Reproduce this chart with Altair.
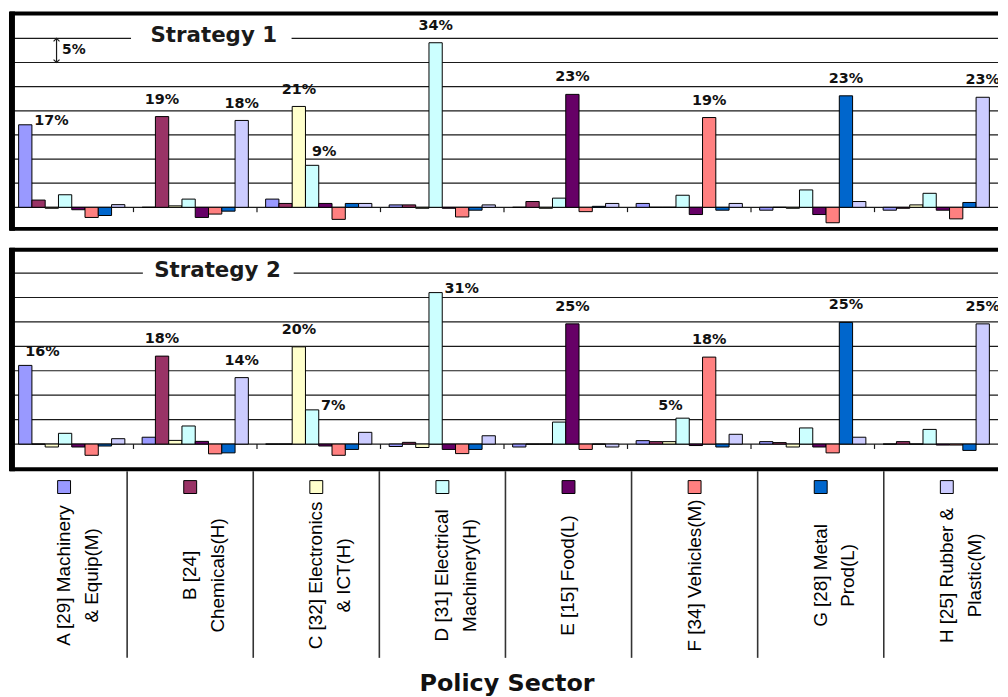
import altair as alt
import pandas as pd

# ---------------- data ----------------
SECTORS = ["A", "B", "C", "D", "E", "F", "G", "H"]
SERIES = ["A", "B", "C", "D", "E", "F", "G", "H"]
SERIES_COLORS = ["#9999FF", "#993366", "#FFFFCC", "#CCFFFF",
                 "#660066", "#FF8080", "#0066CC", "#CCCCFF"]
SECTOR_NAMES = [
    "A [29] Machinery\n& Equip(M)",
    "B [24]\nChemicals(H)",
    "C [32] Electronics\n& ICT(H)",
    "D [31] Electrical\nMachinery(H)",
    "E [15] Food(L)",
    "F [34] Vehicles(M)",
    "G [28] Metal\nProd(L)",
    "H [25] Rubber &\nPlastic(M)",
]
AXIS_TITLE = "Policy Sector"
PANEL_TITLES = ["Strategy 1", "Strategy 2"]
GRID_VALUES = [0, 5, 10, 15, 20, 25, 30, 35]
SCALE_NOTE = "5%"

# Strategy 1: one list per policy sector, values for series A..H (%)
S1_A = [17.1, 1.5, -0.2, 2.6, -0.5, -2.1, -1.7, 0.55]
S1_B = [0.0, 18.8, 0.3, 1.7, -2.1, -1.4, -0.8, 18.0]
S1_C = [1.7, 0.8, 20.9, 8.7, 0.8, -2.5, 0.8, 0.8]
S1_D = [0.5, 0.5, -0.2, 34.1, -0.2, -2.0, -0.6, 0.5]
S1_E = [0.0, 1.2, -0.2, 1.9, 23.4, -0.9, 0.2, 0.8]
S1_F = [0.8, 0.0, 0.0, 2.5, -1.5, 18.6, -0.6, 0.8]
S1_G = [-0.6, 0.0, -0.2, 3.6, -1.5, -3.2, 23.1, 1.2]
S1_H = [-0.6, -0.2, 0.5, 2.9, -0.6, -2.4, 1.0, 22.8]

# Strategy 2
S2_A = [16.1, 0.0, -0.6, 2.2, -0.6, -2.3, -0.4, 1.1]
S2_B = [1.4, 18.0, 0.75, 3.7, 0.55, -2.0, -1.8, 13.6]
S2_C = [0.0, 0.0, 19.9, 7.0, -0.4, -2.3, -1.1, 2.4]
S2_D = [-0.5, 0.35, -0.7, 31.0, -1.1, -1.95, -1.1, 1.7]
S2_E = [-0.6, 0.0, 0.0, 4.5, 24.6, -1.1, 0.0, -0.6]
S2_F = [0.7, 0.5, 0.5, 5.3, -0.3, 17.8, -0.6, 2.0]
S2_G = [0.5, 0.3, -0.6, 3.3, -0.6, -1.8, 24.9, 1.4]
S2_H = [0.0, 0.5, 0.0, 3.0, -0.2, -0.2, -1.3, 24.6]

# value labels: (sector, series, text)
S1_LABELS_ABOVE = [("B", "B", "19%"), ("B", "H", "18%"), ("C", "C", "21%"),
                   ("D", "D", "34%"), ("E", "E", "23%"), ("F", "F", "19%"),
                   ("G", "G", "23%"), ("H", "H", "23%")]
S1_LABELS_RIGHT = [("A", "A", "17%")]
S1_LABELS_UPRIGHT = [("C", "D", "9%")]
S1_LABELS_UPLEFT = []

S2_LABELS_ABOVE = [("B", "B", "18%"), ("B", "H", "14%"), ("C", "C", "20%"),
                   ("E", "E", "25%"), ("F", "F", "18%"), ("G", "G", "25%"),
                   ("H", "H", "25%")]
S2_LABELS_RIGHT = [("C", "D", "7%"), ("D", "D", "31%")]
S2_LABELS_UPRIGHT = [("A", "A", "16%")]
S2_LABELS_UPLEFT = [("F", "D", "5%")]

# ---------------- layout ----------------
W = 995
BOLD = "DejaVu Sans"
NARROW = "Liberation Sans Narrow, Liberation Sans, Arial, sans-serif"

X_BAND = alt.Scale(domain=SECTORS, paddingInner=0.14, paddingOuter=0.07)
X_OFF = alt.Scale(domain=SERIES, paddingInner=0, paddingOuter=0)
U_SCALE = alt.Scale(domain=[0, 8], nice=False, zero=False)
# the data-table strip below the panels has slightly wider columns
T_SCALE = alt.Scale(domain=[0.071, 7.906], nice=False, zero=False)
COLOR = alt.Scale(domain=SERIES, range=SERIES_COLORS)
U_PX = 8.0 / W  # one pixel in group units


def panel(rows, labels, title, title_u, gap, ymin, ymax, ftop, px_per_pct, height, arrow):
    df = pd.DataFrame([
        {"sector": s, "series": k, "value": v}
        for s, vals in zip(SECTORS, rows) for k, v in zip(SERIES, vals)
    ])
    ys = alt.Scale(domain=[ymin, ymax], nice=False, zero=False)
    ux = alt.X("u:Q", scale=U_SCALE, axis=None)
    yq = alt.Y("y:Q", scale=ys, axis=None)

    grid_rows = []
    for g in GRID_VALUES:
        if g == 35:
            grid_rows.append({"u": 0, "u2": gap[0], "y": g})
            grid_rows.append({"u": gap[1], "u2": 8, "y": g})
        else:
            grid_rows.append({"u": 0, "u2": 8, "y": g})
    grid = alt.Chart(pd.DataFrame(grid_rows)).mark_rule(
        color="#1a1a1a", strokeWidth=1.2
    ).encode(x=ux, x2="u2:Q", y=yq)

    ticks = alt.Chart(pd.DataFrame({"u": list(range(1, 8)), "y": [0] * 7, "y2": [-1.0] * 7})).mark_rule(
        color="#1a1a1a", strokeWidth=1.2
    ).encode(x=ux, y=yq, y2="y2:Q")

    bars = alt.Chart(df).mark_bar(stroke="black", strokeWidth=1).encode(
        x=alt.X("sector:N", scale=X_BAND, axis=None),
        xOffset=alt.XOffset("series:N", scale=X_OFF),
        y=alt.Y("value:Q", scale=ys, axis=None, stack=None),
        color=alt.Color("series:N", scale=COLOR, legend=None),
    )

    label_layers = []
    styles = {
        "above": dict(align="center", dx=0, dy=-17),
        "right": dict(align="left", dx=9, dy=-4),
        "upright": dict(align="left", dx=0, dy=-13),
        "upleft": dict(align="right", dx=0, dy=-12),
    }
    vals = df.set_index(["sector", "series"])["value"]
    for kind, items in labels.items():
        if not items:
            continue
        ldf = pd.DataFrame([
            {"sector": s, "series": k, "text": t, "value": float(vals[(s, k)])}
            for s, k, t in items
        ])
        label_layers.append(
            alt.Chart(ldf).mark_text(
                font=BOLD, fontWeight="bold", fontSize=14.5, color="#111",
                baseline="middle", clip=True, **styles[kind]
            ).encode(
                x=alt.X("sector:N", scale=X_BAND, axis=None),
                xOffset=alt.XOffset("series:N", scale=X_OFF),
                y=alt.Y("value:Q", scale=ys, axis=None),
                text="text:N",
            )
        )

    bar_group = alt.layer(bars, *label_layers)

    title_mark = alt.Chart(pd.DataFrame({"u": [title_u], "y": [35], "t": [title]})).mark_text(
        font=BOLD, fontWeight="bold", fontSize=21.5, color="#1a1a1a",
        align="center", baseline="middle", dy=-2
    ).encode(x=ux, y=yq, text="t:N")

    extra = []
    if arrow:
        au = 0.377
        extra.append(alt.Chart(pd.DataFrame({"u": [au], "y": [30], "y2": [35]})).mark_rule(
            color="#1a1a1a", strokeWidth=1.2
        ).encode(x=ux, y=yq, y2="y2:Q"))
        extra.append(alt.Chart(pd.DataFrame({"u": [au], "y": [35]})).mark_point(
            shape="M-1,1L0,0L1,1", size=36, filled=False, color="#1a1a1a", strokeWidth=1.2, opacity=1
        ).encode(x=ux, y=yq))
        extra.append(alt.Chart(pd.DataFrame({"u": [au], "y": [30]})).mark_point(
            shape="M-1,-1L0,0L1,-1", size=36, filled=False, color="#1a1a1a", strokeWidth=1.2, opacity=1
        ).encode(x=ux, y=yq))
        extra.append(alt.Chart(pd.DataFrame({"u": [au + 0.045], "y": [32.6], "t": [SCALE_NOTE]})).mark_text(
            font=BOLD, fontWeight="bold", fontSize=14, color="#111", align="left", baseline="middle"
        ).encode(x=ux, y=yq, text="t:N"))

    # frame: thick top / bottom / left borders (no right border, as in the cropped original)
    hy = 2.0 / px_per_pct
    frame_h = alt.Chart(pd.DataFrame({
        "u": [0, 0], "u2": [8, 8],
        "y": [ymin - hy, ftop - hy], "y2": [ymin + hy, ftop + hy],
    })).mark_rect(color="black").encode(x=ux, x2="u2:Q", y=yq, y2="y2:Q")
    frame_v = alt.Chart(pd.DataFrame({
        "u": [-1 * U_PX], "u2": [5 * U_PX], "y": [ymin - hy], "y2": [ftop + hy],
    })).mark_rect(color="black").encode(x=ux, x2="u2:Q", y=yq, y2="y2:Q")

    return alt.layer(
        grid, ticks, bar_group, title_mark, *extra, frame_h, frame_v
    ).resolve_scale(x="independent", xOffset="independent").properties(width=W, height=height)


# panel 1: view spans the frame exactly
p1 = panel(
    [S1_A, S1_B, S1_C, S1_D, S1_E, S1_F, S1_G, S1_H],
    {"above": S1_LABELS_ABOVE, "right": S1_LABELS_RIGHT,
     "upright": S1_LABELS_UPRIGHT, "upleft": S1_LABELS_UPLEFT},
    PANEL_TITLES[0], 1.65, (0.98, 2.28), -4.47, 40.18, 40.18, 4.86, 217, True,
)
# panel 2: frame top inside the view
p2 = panel(
    [S2_A, S2_B, S2_C, S2_D, S2_E, S2_F, S2_G, S2_H],
    {"above": S2_LABELS_ABOVE, "right": S2_LABELS_RIGHT,
     "upright": S2_LABELS_UPRIGHT, "upleft": S2_LABELS_UPLEFT},
    PANEL_TITLES[1], 1.68, (1.076, 2.297), -5.14, 44.04, 39.78, 4.92, 242, False,
)

# ---------------- sector table ----------------
tdf = pd.DataFrame({
    "pos": [i + 0.5 for i in range(len(SECTORS))],
    "name": SECTOR_NAMES, "key": SERIES,
})
tx = alt.X("pos:Q", scale=T_SCALE, axis=None)
sep = alt.Chart(pd.DataFrame({"pos": list(range(1, 8))})).mark_rule(
    color="#333", strokeWidth=1.6
).encode(x=tx, y=alt.value(2), y2=alt.value(190))
swatch = alt.Chart(tdf).mark_square(size=169, stroke="black", strokeWidth=1, opacity=1, filled=True).encode(
    x=tx,
    y=alt.value(18),
    color=alt.Color("key:N", scale=COLOR, legend=None),
)
names = alt.Chart(tdf).mark_text(
    angle=270, align="center", baseline="middle", lineBreak="\n", lineHeight=28,
    font=NARROW, fontSize=19, color="black"
).encode(
    x=tx,
    y=alt.value(107),
    text="name:N",
)
ttl = alt.Chart(pd.DataFrame({"t": [AXIS_TITLE]})).mark_text(
    font=BOLD, fontWeight="bold", fontSize=24, color="#111", align="center", baseline="middle"
).encode(x=alt.value(W / 2 + 3), y=alt.value(216), text="t:N")

table = alt.layer(sep, swatch, names, ttl).properties(width=W, height=216)

chart = alt.vconcat(p1, p2, table, spacing=0, bounds="flush").properties(
    padding={"left": 0, "top": 0, "right": 0, "bottom": 0}
).configure_view(stroke="transparent")

chart.save("out.html", embed_options={"renderer": "svg", "actions": False})
